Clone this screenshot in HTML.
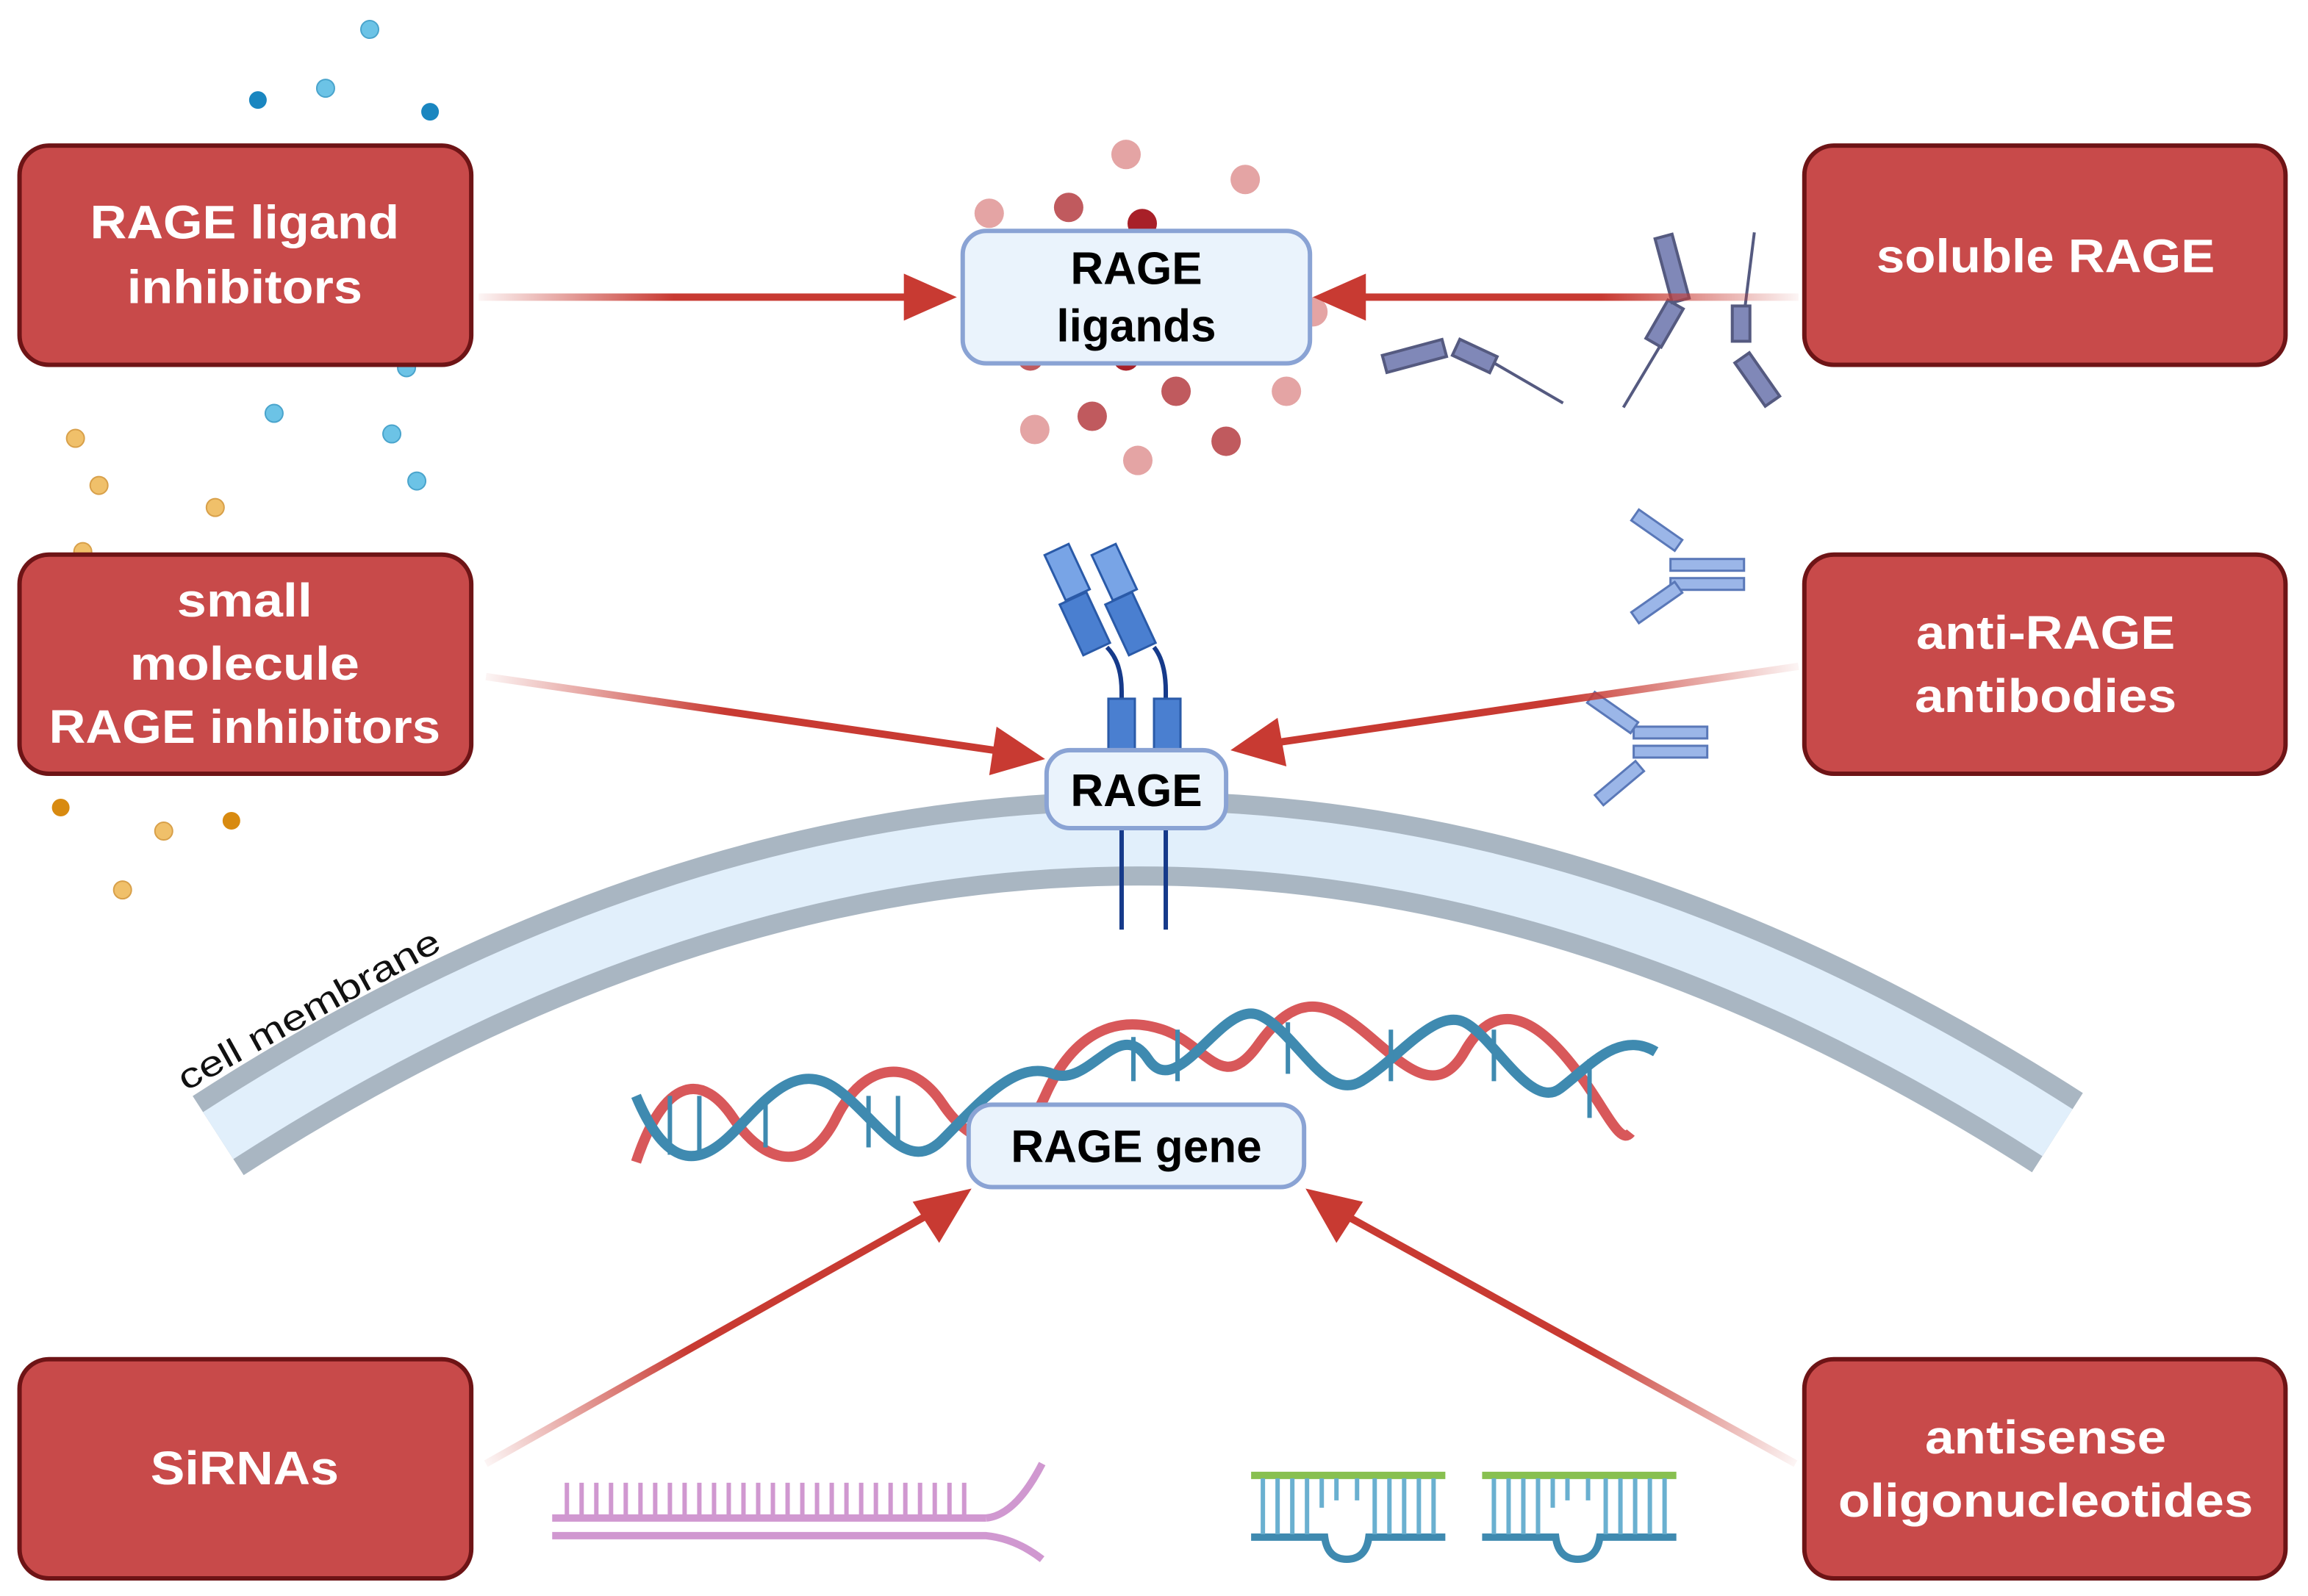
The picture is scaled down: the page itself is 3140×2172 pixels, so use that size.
<!DOCTYPE html>
<html><head><meta charset="utf-8"><style>
html,body{margin:0;padding:0;background:#fff}
svg{display:block}
.bt{font-family:"Liberation Sans",sans-serif;font-weight:bold;fill:#fff;font-size:32px;text-anchor:middle}
.lt{font-family:"Liberation Sans",sans-serif;font-weight:bold;fill:#000;font-size:31px;text-anchor:middle}
</style></head><body>
<svg width="3140" height="2172" viewBox="0 0 1568 1085" xmlns="http://www.w3.org/2000/svg">
<defs>
<linearGradient id="g1" gradientUnits="userSpaceOnUse" x1="325" y1="202" x2="620" y2="202"><stop offset="0" stop-color="#c83a32" stop-opacity="0.05"/><stop offset="0.45" stop-color="#c83a32"/></linearGradient>
<linearGradient id="g2" gradientUnits="userSpaceOnUse" x1="1222" y1="202" x2="925" y2="202"><stop offset="0" stop-color="#c83a32" stop-opacity="0.05"/><stop offset="0.45" stop-color="#c83a32"/></linearGradient>
<linearGradient id="g3" gradientUnits="userSpaceOnUse" x1="330" y1="460" x2="690" y2="512"><stop offset="0" stop-color="#c83a32" stop-opacity="0.05"/><stop offset="0.45" stop-color="#c83a32"/></linearGradient>
<linearGradient id="g4" gradientUnits="userSpaceOnUse" x1="1222" y1="453" x2="860" y2="507"><stop offset="0" stop-color="#c83a32" stop-opacity="0.05"/><stop offset="0.45" stop-color="#c83a32"/></linearGradient>
<linearGradient id="g5" gradientUnits="userSpaceOnUse" x1="330" y1="995" x2="635" y2="823"><stop offset="0" stop-color="#c83a32" stop-opacity="0.05"/><stop offset="0.45" stop-color="#c83a32"/></linearGradient>
<linearGradient id="g6" gradientUnits="userSpaceOnUse" x1="1220" y1="995" x2="910" y2="823"><stop offset="0" stop-color="#c83a32" stop-opacity="0.05"/><stop offset="0.45" stop-color="#c83a32"/></linearGradient>
</defs>

<!-- membrane -->
<path d="M148 772 Q773 369 1398 770" fill="none" stroke="#a9b6c2" stroke-width="64"/>
<path d="M148 772 Q773 369 1398 770" fill="none" stroke="#e1effb" stroke-width="38"/>
<text x="0" y="0" transform="translate(126 742) rotate(-29)" font-family="Liberation Sans,sans-serif" font-size="24" fill="#111" textLength="200" lengthAdjust="spacingAndGlyphs">cell membrane</text>

<!-- dots blue -->
<g fill="#6cc3e6" stroke="#4aa4cc" stroke-width="1">
<circle cx="251" cy="20" r="6"/><circle cx="221" cy="60" r="6"/><circle cx="186" cy="281" r="6"/><circle cx="266" cy="295" r="6"/><circle cx="283" cy="327" r="6"/><circle cx="276" cy="250" r="6"/>
</g>
<g fill="#1a86c0"><circle cx="175" cy="68" r="6"/><circle cx="292" cy="76" r="6"/></g>
<g fill="#f0c06a" stroke="#d8a04a" stroke-width="1">
<circle cx="51" cy="298" r="6"/><circle cx="67" cy="330" r="6"/><circle cx="146" cy="345" r="6"/><circle cx="56" cy="375" r="6"/><circle cx="111" cy="565" r="6"/><circle cx="83" cy="605" r="6"/>
</g>
<g fill="#d88a10"><circle cx="41" cy="549" r="6"/><circle cx="157" cy="558" r="6"/></g>
<!-- ligand dots -->
<g>
<circle cx="765" cy="105" r="10" fill="#e4a4a4"/><circle cx="846" cy="122" r="10" fill="#e4a4a4"/><circle cx="672" cy="145" r="10" fill="#e4a4a4"/><circle cx="726" cy="141" r="10" fill="#c05a5e"/><circle cx="776" cy="152" r="10" fill="#a82028"/><circle cx="703" cy="292" r="10" fill="#e4a4a4"/><circle cx="742" cy="283" r="10" fill="#c05a5e"/><circle cx="799" cy="266" r="10" fill="#c05a5e"/><circle cx="874" cy="266" r="10" fill="#e4a4a4"/><circle cx="833" cy="300" r="10" fill="#c05a5e"/><circle cx="773" cy="313" r="10" fill="#e4a4a4"/><circle cx="892" cy="212" r="10" fill="#e4a4a4"/><circle cx="700" cy="243" r="9" fill="#c05a5e"/><circle cx="765" cy="243" r="9" fill="#a82028"/>
</g>

<!-- soluble RAGE shapes -->
<g stroke="#555a80" stroke-width="2" fill="#8088b8">
<line x1="1000" y1="238" x2="1062" y2="274"/>
<rect x="940" y="236" width="42" height="12" transform="rotate(-15 961 242)"/>
<rect x="988" y="236" width="28" height="12" transform="rotate(25 1002 242)"/>
<line x1="1103" y1="277" x2="1140" y2="215"/>
<rect x="1125" y="205" width="12" height="30" transform="rotate(30 1131 220)"/>
<rect x="1130" y="160" width="12" height="45" transform="rotate(-15 1136 182)"/>
<line x1="1192" y1="158" x2="1183" y2="230"/>
<rect x="1177" y="208" width="12" height="24"/>
<rect x="1188" y="240" width="12" height="36" transform="rotate(-35 1194 258)"/>
</g>

<!-- antibodies -->
<g fill="#9bb6e8" stroke="#5a78b8" stroke-width="1.5">
<rect x="1135" y="380" width="50" height="8"/><rect x="1135" y="393" width="50" height="8"/>
<rect x="1108" y="356" width="36" height="9" transform="rotate(35 1126 360)"/>
<rect x="1108" y="405" width="36" height="9" transform="rotate(-35 1126 410)"/>
<rect x="1110" y="494" width="50" height="8"/><rect x="1110" y="507" width="50" height="8"/>
<rect x="1078" y="480" width="36" height="9" transform="rotate(35 1096 484)"/>
<rect x="1082" y="528" width="36" height="9" transform="rotate(-40 1100 532)"/>
</g>

<!-- RAGE receptor -->
<g stroke="#163a8a" stroke-width="3" fill="none">
<path d="M762 632 V470 Q762 450 752 440"/><path d="M792 632 V470 Q792 450 784 440"/>
</g>
<g fill="#4a7fd0" stroke="#2a5aa8" stroke-width="1.5">
<rect x="753" y="475" width="18" height="40"/><rect x="784" y="475" width="18" height="40"/>
<rect x="727" y="405" width="20" height="38" transform="rotate(-25 737 424)"/>
<rect x="758" y="405" width="20" height="38" transform="rotate(-25 768 424)"/>
<rect x="716" y="372" width="18" height="34" fill="#78a4e6" transform="rotate(-25 725 389)"/>
<rect x="748" y="372" width="18" height="34" fill="#78a4e6" transform="rotate(-25 757 389)"/>
</g>

<!-- DNA -->
<g fill="none" stroke-width="7">
<path d="M432 790 C452 730 478 730 498 760 S 548 800 568 760 S 620 720 640 750 S 690 790 710 745 S 760 690 790 700 S 830 745 855 710 S 900 680 925 700 S 975 750 995 715 S 1040 690 1065 720 S 1100 780 1108 770" stroke="#d8585a"/>
<path d="M432 745 C455 800 478 790 498 770 S 540 720 568 740 S 615 800 640 775 S 690 720 715 730 S 760 690 780 720 S 830 680 855 690 S 900 750 925 735 S 975 685 995 695 S 1040 755 1060 740 S 1100 700 1125 715" stroke="#3f8ab0"/>
</g>
<g stroke="#3f8ab0" stroke-width="3">
<line x1="455" y1="745" x2="455" y2="785"/><line x1="475" y1="745" x2="475" y2="785"/><line x1="520" y1="750" x2="520" y2="780"/><line x1="590" y1="745" x2="590" y2="780"/><line x1="610" y1="745" x2="610" y2="780"/><line x1="770" y1="705" x2="770" y2="735"/><line x1="800" y1="700" x2="800" y2="735"/><line x1="875" y1="695" x2="875" y2="730"/><line x1="945" y1="700" x2="945" y2="735"/><line x1="1015" y1="700" x2="1015" y2="735"/><line x1="1080" y1="720" x2="1080" y2="760"/>
</g>

<!-- siRNA -->
<g stroke="#d098d0" stroke-width="3">
<line x1="375" y1="1032" x2="670" y2="1032" stroke-width="5"/>
<path d="M670 1032 Q690 1030 708 995" fill="none" stroke-width="5"/>
<path d="M375 1044 H670 Q690 1046 708 1060" fill="none" stroke-width="5"/>
<path d="M385 1008V1032M395 1008V1032M405 1008V1032M415 1008V1032M425 1008V1032M435 1008V1032M445 1008V1032M455 1008V1032M465 1008V1032M475 1008V1032M485 1008V1032M495 1008V1032M505 1008V1032M515 1008V1032M525 1008V1032M535 1008V1032M545 1008V1032M555 1008V1032M565 1008V1032M575 1008V1032M585 1008V1032M595 1008V1032M605 1008V1032M615 1008V1032M625 1008V1032M635 1008V1032M645 1008V1032M655 1008V1032"/>
</g>

<!-- ASO -->
<g>
<g transform="translate(850 0)">
<line x1="0" y1="1003" x2="132" y2="1003" stroke="#88c050" stroke-width="5"/>
<path d="M0 1045 H50 Q52 1060 65 1060 Q78 1060 80 1045 H132" fill="none" stroke="#3f8ab0" stroke-width="5"/>
<path d="M8 1005V1043M18 1005V1043M28 1005V1043M38 1005V1043M48 1005V1025M58 1005V1020M72 1005V1020M84 1005V1043M94 1005V1043M104 1005V1043M114 1005V1043M124 1005V1043" stroke="#6ab0d0" stroke-width="3"/>
</g>
<g transform="translate(1007 0)">
<line x1="0" y1="1003" x2="132" y2="1003" stroke="#88c050" stroke-width="5"/>
<path d="M0 1045 H50 Q52 1060 65 1060 Q78 1060 80 1045 H132" fill="none" stroke="#3f8ab0" stroke-width="5"/>
<path d="M8 1005V1043M18 1005V1043M28 1005V1043M38 1005V1043M48 1005V1025M58 1005V1020M72 1005V1020M84 1005V1043M94 1005V1043M104 1005V1043M114 1005V1043M124 1005V1043" stroke="#6ab0d0" stroke-width="3"/>
</g>
</g>

<!-- arrows -->
<g stroke-width="5" fill="none">
<line x1="325" y1="202" x2="622" y2="202" stroke="url(#g1)"/>
<line x1="1222" y1="202" x2="922" y2="202" stroke="url(#g2)"/>
<line x1="330" y1="460" x2="682" y2="511" stroke="url(#g3)"/>
<line x1="1222" y1="453" x2="866" y2="505" stroke="url(#g4)"/>
<line x1="330" y1="995" x2="632" y2="825" stroke="url(#g5)"/>
<line x1="1220" y1="995" x2="912" y2="825" stroke="url(#g6)"/>
</g>
<g fill="#c83a32">
<polygon points="650,202 614,186 614,218"/>
<polygon points="892,202 928,186 928,218"/>
<polygon points="710,516 677,494 672,527"/>
<polygon points="836,510 868,488 874,521"/>
<polygon points="660,808 620,817 638,845"/>
<polygon points="887,808 926,817 908,845"/>
</g>

<!-- light boxes -->
<g fill="#eaf3fc" stroke="#8aa3d4" stroke-width="3">
<rect x="654" y="157" width="236" height="90" rx="16"/>
<rect x="711" y="510" width="122" height="53" rx="16"/>
<rect x="658" y="751" width="228" height="56" rx="16"/>
</g>
<text class="lt" x="772" y="193">RAGE</text>
<text class="lt" x="772" y="232">ligands</text>
<text class="lt" x="772" y="548">RAGE</text>
<text class="lt" x="772" y="790">RAGE gene</text>

<!-- red boxes -->
<g fill="#c84a4a" stroke="#6e1416" stroke-width="3">
<rect x="13" y="99" width="307" height="149" rx="20"/>
<rect x="13" y="377" width="307" height="149" rx="20"/>
<rect x="13" y="924" width="307" height="149" rx="20"/>
<rect x="1226" y="99" width="327" height="149" rx="20"/>
<rect x="1226" y="377" width="327" height="149" rx="20"/>
<rect x="1226" y="924" width="327" height="149" rx="20"/>
</g>
<text class="bt" x="166" y="162" textLength="210" lengthAdjust="spacingAndGlyphs">RAGE ligand</text>
<text class="bt" x="166" y="206" textLength="160" lengthAdjust="spacingAndGlyphs">inhibitors</text>
<text class="bt" x="166" y="419" textLength="92" lengthAdjust="spacingAndGlyphs">small</text>
<text class="bt" x="166" y="462" textLength="156" lengthAdjust="spacingAndGlyphs">molecule</text>
<text class="bt" x="166" y="505" textLength="266" lengthAdjust="spacingAndGlyphs">RAGE inhibitors</text>
<text class="bt" x="166" y="1009" textLength="128" lengthAdjust="spacingAndGlyphs">SiRNAs</text>
<text class="bt" x="1390" y="185" textLength="230" lengthAdjust="spacingAndGlyphs">soluble RAGE</text>
<text class="bt" x="1390" y="441" textLength="176" lengthAdjust="spacingAndGlyphs">anti-RAGE</text>
<text class="bt" x="1390" y="484" textLength="178" lengthAdjust="spacingAndGlyphs">antibodies</text>
<text class="bt" x="1390" y="988" textLength="164" lengthAdjust="spacingAndGlyphs">antisense</text>
<text class="bt" x="1390" y="1031" textLength="282" lengthAdjust="spacingAndGlyphs">oligonucleotides</text>
</svg>
</body></html>
